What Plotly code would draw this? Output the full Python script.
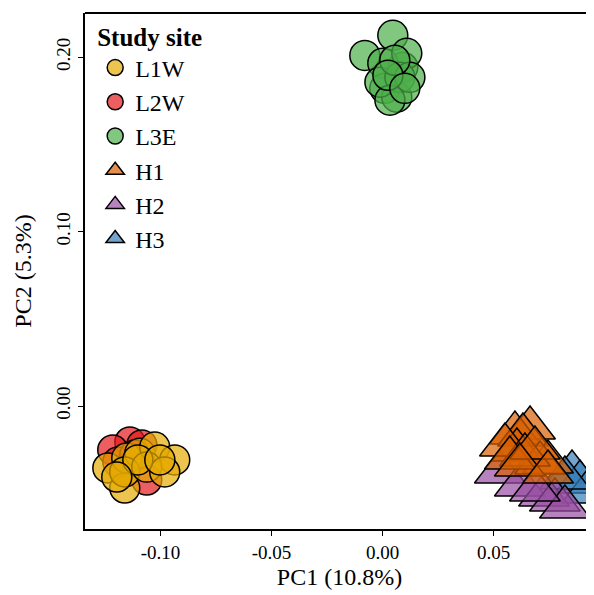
import plotly.graph_objects as go

# ---- data ----
sites = ["L1W", "L2W", "L3E", "H1", "H2", "H3"]

l1w_x = [-0.1237, -0.1152, -0.1093, -0.1026, -0.0936, -0.1161, -0.1161, -0.1062, -0.0981, -0.1102, -0.1197, -0.1003]
l1w_y = [-0.0355, -0.0298, -0.0270, -0.0235, -0.0309, -0.0470, -0.0378, -0.0350, -0.0378, -0.0309, -0.0407, -0.0309]

l2w_x = [-0.1138, -0.1215, -0.1084, -0.1161, -0.1062, -0.1192, -0.1116]
l2w_y = [-0.0206, -0.0252, -0.0223, -0.0367, -0.0424, -0.0321, -0.0281]

l3e_x = [-0.0080, 0.0046, 0.0091, 0.0001, 0.0010, 0.0064, -0.0012, 0.0109, 0.0078, 0.0033, 0.0123, 0.0055, 0.0024, 0.0100]
l3e_y = [0.2011, 0.2126, 0.1943, 0.1966, 0.1822, 0.1771, 0.1857, 0.2023, 0.1885, 0.1754, 0.1885, 0.1983, 0.1897, 0.1822]

h1_x = [0.0664, 0.0596, 0.0632, 0.0605, 0.0745, 0.0709, 0.0551, 0.0641, 0.0573, 0.0686, 0.0618, 0.0745]
h1_y = [-0.0126, -0.0155, -0.0166, -0.0252, -0.0321, -0.0327, -0.0223, -0.0281, -0.0298, -0.0241, -0.0338, -0.0378]

h2_x = [0.0528, 0.0618, 0.0727, 0.0776, 0.0821, 0.0686]
h2_y = [-0.0378, -0.0453, -0.0510, -0.0539, -0.0579, -0.0481]

h3_x = [0.0853, 0.0889, 0.0920, 0.0821]
h3_y = [-0.0378, -0.0436, -0.0493, -0.0413]

x_ticks = [-0.10, -0.05, 0.00, 0.05]
x_ticklabels = ["-0.10", "-0.05", "0.00", "0.05"]
y_ticks = [0.00, 0.10, 0.20]
y_ticklabels = ["0.00", "0.10", "0.20"]

# ---- styles ----
fills = {
    "L1W": "rgba(230,171,2,0.7)",
    "L2W": "rgba(228,26,28,0.7)",
    "L3E": "rgba(77,175,74,0.7)",
    "H1": "rgba(217,95,2,0.7)",
    "H2": "rgba(152,78,163,0.7)",
    "H3": "rgba(55,126,184,0.7)",
}
data = {
    "L1W": (l1w_x, l1w_y, "circle", 30),
    "L2W": (l2w_x, l2w_y, "circle", 30),
    "L3E": (l3e_x, l3e_y, "circle", 30),
    "H1": (h1_x, h1_y, "triangle-up", 44),
    "H2": (h2_x, h2_y, "triangle-up", 44),
    "H3": (h3_x, h3_y, "triangle-up", 44),
}
draw_order = ["L2W", "L1W", "L3E", "H3", "H2", "H1"]

FONT = "Liberation Serif"
fig = go.Figure()
for name in draw_order:
    xs, ys, sym, sz = data[name]
    fig.add_trace(go.Scatter(
        x=xs, y=ys, mode="markers", name=name,
        legendrank=sites.index(name) + 1,
        marker=dict(symbol=sym, size=sz, color=fills[name],
                    line=dict(color="black", width=1.5)),
    ))

# the page body adds an 8px offset, so the figure is sized 586x587
fig.update_layout(
    width=586, height=587,
    margin=dict(l=77, r=0, t=5, b=66, autoexpand=False),
    plot_bgcolor="white", paper_bgcolor="white",
    font=dict(family=FONT, color="black"),
    showlegend=True,
    legend=dict(
        title=dict(text="<b>Study site</b>", font=dict(size=25, family=FONT)),
        font=dict(size=24, family=FONT),
        x=0.02, y=1.0, xanchor="left", yanchor="top",
        bgcolor="rgba(0,0,0,0)", tracegroupgap=0,
        itemsizing="trace",
    ),
)
fig.update_xaxes(
    range=[-0.1340, 0.0952], tickvals=x_ticks, ticktext=x_ticklabels,
    showgrid=False, zeroline=False, automargin=False,
    showline=True, linecolor="black", linewidth=2, mirror=False,
    ticks="outside", ticklen=5, tickwidth=1, tickcolor="black",
    tickfont=dict(size=19, family=FONT),
    title=dict(text="PC1 (10.8%)", font=dict(size=24, family=FONT), standoff=6),
)
fig.update_yaxes(
    range=[-0.0705, 0.2254], tickvals=y_ticks, ticktext=y_ticklabels,
    showgrid=False, zeroline=False, automargin=False,
    showline=True, linecolor="black", linewidth=2,
    ticks="outside", ticklen=5, tickwidth=1, tickcolor="black",
    tickangle=-90,
    tickfont=dict(size=19, family=FONT),
    title=dict(text="PC2 (5.3%)", font=dict(size=24, family=FONT)),
)
# top border of the panel
fig.add_shape(type="line", xref="paper", yref="paper", x0=0, x1=1, y0=1, y1=1,
              line=dict(color="black", width=2))

fig.write_html("out.html")
